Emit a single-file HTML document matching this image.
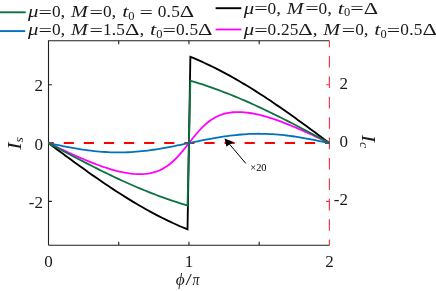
<!DOCTYPE html><html><head><meta charset="utf-8"><style>html,body{margin:0;padding:0;background:#fff}svg{display:block;will-change:transform;opacity:0.999}text{font-family:"Liberation Serif",serif}</style></head><body><svg width="436" height="291" viewBox="0 0 436 291" fill="#1a1a1a">
<rect width="436" height="291" fill="#fff"/>
<path d="M329.40 40.80 L48.50 40.80 L48.50 245.20 M48.50 245.20 L329.40 245.20" fill="none" stroke="#1f1f1f" stroke-width="1.1"/>
<path d="M118.72 40.80 v3.4 M118.72 245.20 v-3.4 M188.95 40.80 v3.4 M188.95 245.20 v-3.4 M259.17 40.80 v3.4 M259.17 245.20 v-3.4 M48.50 84.80 h3.4 M48.50 143.10 h3.4 M48.50 201.40 h3.4" stroke="#1f1f1f" stroke-width="1.1" fill="none"/>
<path d="M329.40 40.80 V245.20" stroke="#f5323c" stroke-width="1.1" stroke-dasharray="11.6 8.8" stroke-dashoffset="5.2" fill="none"/>
<path d="M329.40 84.80 h-3.3 M329.40 143.10 h-3.3 M329.40 201.40 h-3.3" stroke="#f5323c" stroke-width="1.1" fill="none"/>
<path d="M48.50 143.10 H329.40" stroke="#ff0000" stroke-width="2" stroke-dasharray="10.2 9.9" stroke-dashoffset="4.9" fill="none"/>
<path d="M48.50 143.10 L51.34 145.21 L54.17 147.31 L57.01 149.41 L59.85 151.51 L62.69 153.61 L65.52 155.70 L68.36 157.78 L71.20 159.86 L74.04 161.93 L76.87 163.99 L79.71 166.05 L82.55 168.09 L85.39 170.12 L88.22 172.14 L91.06 174.14 L93.90 176.13 L96.74 178.11 L99.57 180.07 L102.41 182.01 L105.25 183.94 L108.08 185.85 L110.92 187.74 L113.76 189.61 L116.60 191.46 L119.43 193.29 L122.27 195.09 L125.11 196.88 L127.95 198.64 L130.78 200.37 L133.62 202.09 L136.46 203.77 L139.30 205.44 L142.13 207.07 L144.97 208.68 L147.81 210.27 L150.65 211.82 L153.48 213.35 L156.32 214.85 L159.16 216.32 L161.99 217.76 L164.83 219.17 L167.67 220.55 L170.51 221.91 L173.34 223.23 L176.18 224.52 L179.02 225.79 L181.86 227.02 L184.69 228.22 L187.53 229.39 L190.37 56.81 L193.21 57.98 L196.04 59.18 L198.88 60.41 L201.72 61.68 L204.56 62.97 L207.39 64.29 L210.23 65.65 L213.07 67.03 L215.91 68.44 L218.74 69.88 L221.58 71.35 L224.42 72.85 L227.25 74.38 L230.09 75.93 L232.93 77.52 L235.77 79.13 L238.60 80.76 L241.44 82.43 L244.28 84.11 L247.12 85.83 L249.95 87.56 L252.79 89.32 L255.63 91.11 L258.47 92.91 L261.30 94.74 L264.14 96.59 L266.98 98.46 L269.82 100.35 L272.65 102.26 L275.49 104.19 L278.33 106.13 L281.16 108.09 L284.00 110.07 L286.84 112.06 L289.68 114.06 L292.51 116.08 L295.35 118.11 L298.19 120.15 L301.03 122.21 L303.86 124.27 L306.70 126.34 L309.54 128.42 L312.38 130.50 L315.21 132.59 L318.05 134.69 L320.89 136.79 L323.73 138.89 L326.56 140.99 L329.40 143.10" stroke="#000" stroke-width="1.85" fill="none" stroke-linejoin="miter"/>
<path d="M48.50 143.10 L51.34 144.45 L54.17 145.81 L57.01 147.15 L59.85 148.50 L62.69 149.83 L65.52 151.16 L68.36 152.47 L71.20 153.77 L74.04 155.05 L76.87 156.32 L79.71 157.56 L82.55 158.79 L85.39 159.99 L88.22 161.16 L91.06 162.30 L93.90 163.41 L96.74 164.49 L99.57 165.53 L102.41 166.53 L105.25 167.49 L108.08 168.41 L110.92 169.27 L113.76 170.08 L116.60 170.84 L119.43 171.53 L122.27 172.16 L125.11 172.71 L127.95 173.19 L130.78 173.58 L133.62 173.87 L136.46 174.07 L139.30 174.15 L142.13 174.11 L144.97 173.94 L147.81 173.62 L150.65 173.13 L153.48 172.46 L156.32 171.58 L159.16 170.48 L161.99 169.15 L164.83 167.54 L167.67 165.66 L170.51 163.49 L173.34 161.02 L176.18 158.25 L179.02 155.21 L181.86 151.94 L184.69 148.48 L187.53 144.91 L190.37 141.29 L193.21 137.72 L196.04 134.26 L198.88 130.99 L201.72 127.95 L204.56 125.18 L207.39 122.71 L210.23 120.54 L213.07 118.66 L215.91 117.05 L218.74 115.72 L221.58 114.62 L224.42 113.74 L227.25 113.07 L230.09 112.58 L232.93 112.26 L235.77 112.09 L238.60 112.05 L241.44 112.13 L244.28 112.33 L247.12 112.62 L249.95 113.01 L252.79 113.49 L255.63 114.04 L258.47 114.67 L261.30 115.36 L264.14 116.12 L266.98 116.93 L269.82 117.79 L272.65 118.71 L275.49 119.67 L278.33 120.67 L281.16 121.71 L284.00 122.79 L286.84 123.90 L289.68 125.04 L292.51 126.21 L295.35 127.41 L298.19 128.64 L301.03 129.88 L303.86 131.15 L306.70 132.43 L309.54 133.73 L312.38 135.04 L315.21 136.37 L318.05 137.70 L320.89 139.05 L323.73 140.39 L326.56 141.75 L329.40 143.10" stroke="#ff00ff" stroke-width="1.8" fill="none"/>
<path d="M48.50 143.10 L51.34 143.69 L54.17 144.28 L57.01 144.87 L59.85 145.44 L62.69 146.01 L65.52 146.57 L68.36 147.11 L71.20 147.64 L74.04 148.14 L76.87 148.63 L79.71 149.10 L82.55 149.54 L85.39 149.95 L88.22 150.34 L91.06 150.70 L93.90 151.03 L96.74 151.32 L99.57 151.59 L102.41 151.81 L105.25 152.01 L108.08 152.17 L110.92 152.29 L113.76 152.37 L116.60 152.42 L119.43 152.43 L122.27 152.40 L125.11 152.33 L127.95 152.23 L130.78 152.09 L133.62 151.91 L136.46 151.70 L139.30 151.46 L142.13 151.18 L144.97 150.87 L147.81 150.52 L150.65 150.15 L153.48 149.75 L156.32 149.32 L159.16 148.87 L161.99 148.39 L164.83 147.89 L167.67 147.37 L170.51 146.84 L173.34 146.29 L176.18 145.73 L179.02 145.16 L181.86 144.57 L184.69 143.99 L187.53 143.40 L190.37 142.80 L193.21 142.21 L196.04 141.63 L198.88 141.04 L201.72 140.47 L204.56 139.91 L207.39 139.36 L210.23 138.83 L213.07 138.31 L215.91 137.81 L218.74 137.33 L221.58 136.88 L224.42 136.45 L227.25 136.05 L230.09 135.68 L232.93 135.33 L235.77 135.02 L238.60 134.74 L241.44 134.50 L244.28 134.29 L247.12 134.11 L249.95 133.97 L252.79 133.87 L255.63 133.80 L258.47 133.77 L261.30 133.78 L264.14 133.83 L266.98 133.91 L269.82 134.03 L272.65 134.19 L275.49 134.39 L278.33 134.61 L281.16 134.88 L284.00 135.17 L286.84 135.50 L289.68 135.86 L292.51 136.25 L295.35 136.66 L298.19 137.10 L301.03 137.57 L303.86 138.06 L306.70 138.56 L309.54 139.09 L312.38 139.63 L315.21 140.19 L318.05 140.76 L320.89 141.33 L323.73 141.92 L326.56 142.51 L329.40 143.10" stroke="#0072bd" stroke-width="1.8" fill="none"/>
<path d="M48.50 143.10 L51.34 144.62 L54.17 146.14 L57.01 147.66 L59.85 149.18 L62.69 150.70 L65.52 152.21 L68.36 153.72 L71.20 155.22 L74.04 156.72 L76.87 158.21 L79.71 159.69 L82.55 161.17 L85.39 162.64 L88.22 164.10 L91.06 165.55 L93.90 166.99 L96.74 168.42 L99.57 169.83 L102.41 171.24 L105.25 172.63 L108.08 174.01 L110.92 175.38 L113.76 176.73 L116.60 178.07 L119.43 179.39 L122.27 180.70 L125.11 181.99 L127.95 183.26 L130.78 184.52 L133.62 185.76 L136.46 186.98 L139.30 188.18 L142.13 189.36 L144.97 190.53 L147.81 191.67 L150.65 192.80 L153.48 193.90 L156.32 194.98 L159.16 196.05 L161.99 197.09 L164.83 198.11 L167.67 199.11 L170.51 200.09 L173.34 201.05 L176.18 201.98 L179.02 202.90 L181.86 203.79 L184.69 204.66 L187.53 205.50 L190.37 80.70 L193.21 81.54 L196.04 82.41 L198.88 83.30 L201.72 84.22 L204.56 85.15 L207.39 86.11 L210.23 87.09 L213.07 88.09 L215.91 89.11 L218.74 90.15 L221.58 91.22 L224.42 92.30 L227.25 93.40 L230.09 94.53 L232.93 95.67 L235.77 96.84 L238.60 98.02 L241.44 99.22 L244.28 100.44 L247.12 101.68 L249.95 102.94 L252.79 104.21 L255.63 105.50 L258.47 106.81 L261.30 108.13 L264.14 109.47 L266.98 110.82 L269.82 112.19 L272.65 113.57 L275.49 114.96 L278.33 116.37 L281.16 117.78 L284.00 119.21 L286.84 120.65 L289.68 122.10 L292.51 123.56 L295.35 125.03 L298.19 126.51 L301.03 127.99 L303.86 129.48 L306.70 130.98 L309.54 132.48 L312.38 133.99 L315.21 135.50 L318.05 137.02 L320.89 138.54 L323.73 140.06 L326.56 141.58 L329.40 143.10" stroke="#0c7340" stroke-width="1.8" fill="none" stroke-linejoin="miter"/>
<path d="M245.8 163.4 L229 143.6" stroke="#000" stroke-width="1" fill="none"/>
<path d="M224.6 138.4 L234.1 142.3 L229.6 144.2 L226.5 146.7 Z" fill="#000"/>
<text transform="translate(250.30,171.30) scale(1.000,1)" font-size="10.4" text-anchor="start" fill="#000">×20</text>
<text transform="translate(43.00,91.20) scale(1.000,1)" font-size="17.0" text-anchor="end">2</text>
<text transform="translate(348.00,88.50) scale(1.000,1)" font-size="17.0" text-anchor="end">2</text>
<text transform="translate(43.00,149.50) scale(1.000,1)" font-size="17.0" text-anchor="end">0</text>
<text transform="translate(348.00,146.80) scale(1.000,1)" font-size="17.0" text-anchor="end">0</text>
<text transform="translate(43.00,207.80) scale(1.000,1)" font-size="17.0" text-anchor="end">-2</text>
<text transform="translate(348.00,205.10) scale(1.000,1)" font-size="17.0" text-anchor="end">-2</text>
<text transform="translate(48.50,266.50) scale(1.000,1)" font-size="17.0" text-anchor="middle">0</text>
<text transform="translate(188.95,266.50) scale(1.000,1)" font-size="17.0" text-anchor="middle">1</text>
<text transform="translate(329.40,266.50) scale(1.000,1)" font-size="17.0" text-anchor="middle">2</text>
<text transform="translate(175.80,284.60) scale(1.050,1)" font-size="16.5" text-anchor="start" font-style="italic">ϕ</text>
<text transform="translate(185.60,285.20) scale(1.300,1)" font-size="17.5" text-anchor="start">/</text>
<text transform="translate(192.60,284.60) scale(0.840,1)" font-size="16.5" text-anchor="start" font-style="italic">π</text>
<text transform="translate(20.6,149.8) rotate(-90) scale(1.22,1)" font-size="18" font-style="italic">I</text>
<text transform="translate(23.2,142.4) rotate(-90) scale(1.1,1)" font-size="12.5" font-style="italic">s</text>
<text transform="translate(362.4,134.8) rotate(90) scale(1.22,1)" font-size="18" font-style="italic">I</text>
<text transform="translate(359.8,142.0) rotate(90) scale(1.1,1)" font-size="12.5" font-style="italic">c</text>
<path d="M-1 12.3 H25.7" stroke="#0c7340" stroke-width="1.9"/>
<path d="M-1 31.1 H25.2" stroke="#0072bd" stroke-width="1.9"/>
<path d="M215.6 8.2 H241.3" stroke="#000" stroke-width="1.9"/>
<path d="M215.6 29.5 H241.3" stroke="#ff00ff" stroke-width="1.8"/>
<text transform="translate(28.00,17.20) scale(1.267,1)" font-size="16.4" text-anchor="start" font-style="italic">μ</text>
<text transform="translate(38.43,18.00) scale(1.455,1)" font-size="16.4" text-anchor="start">=</text>
<text transform="translate(51.89,17.20) scale(1.055,1)" font-size="16.4" text-anchor="start">0</text>
<text transform="translate(60.54,17.20) scale(1.173,1)" font-size="16.4" text-anchor="start">,</text>
<text transform="translate(71.11,17.20) scale(1.228,1)" font-size="16.4" text-anchor="start" font-style="italic">M</text>
<text transform="translate(89.45,18.00) scale(1.455,1)" font-size="16.4" text-anchor="start">=</text>
<text transform="translate(102.91,17.20) scale(1.055,1)" font-size="16.4" text-anchor="start">0</text>
<text transform="translate(111.56,17.20) scale(1.173,1)" font-size="16.4" text-anchor="start">,</text>
<text transform="translate(122.13,17.20) scale(1.370,1)" font-size="16.4" text-anchor="start" font-style="italic">t</text>
<text transform="translate(128.37,19.90) scale(1.055,1)" font-size="11.81" text-anchor="start">0</text>
<text transform="translate(139.41,18.00) scale(1.455,1)" font-size="16.4" text-anchor="start">=</text>
<text transform="translate(157.68,17.20) scale(1.055,1)" font-size="16.4" text-anchor="start">0</text>
<text transform="translate(166.33,17.20) scale(1.173,1)" font-size="16.4" text-anchor="start">.</text>
<text transform="translate(171.14,17.20) scale(1.055,1)" font-size="16.4" text-anchor="start">5</text>
<text transform="translate(179.79,17.20) scale(1.367,1)" font-size="16.4" text-anchor="start">Δ</text>
<text transform="translate(28.00,35.40) scale(1.267,1)" font-size="16.4" text-anchor="start" font-style="italic">μ</text>
<text transform="translate(38.43,36.20) scale(1.455,1)" font-size="16.4" text-anchor="start">=</text>
<text transform="translate(51.89,35.40) scale(1.055,1)" font-size="16.4" text-anchor="start">0</text>
<text transform="translate(60.54,35.40) scale(1.173,1)" font-size="16.4" text-anchor="start">,</text>
<text transform="translate(71.11,35.40) scale(1.228,1)" font-size="16.4" text-anchor="start" font-style="italic">M</text>
<text transform="translate(89.45,36.20) scale(1.455,1)" font-size="16.4" text-anchor="start">=</text>
<text transform="translate(102.91,35.40) scale(1.055,1)" font-size="16.4" text-anchor="start">1</text>
<text transform="translate(111.56,35.40) scale(1.173,1)" font-size="16.4" text-anchor="start">.</text>
<text transform="translate(116.37,35.40) scale(1.055,1)" font-size="16.4" text-anchor="start">5</text>
<text transform="translate(125.02,35.40) scale(1.367,1)" font-size="16.4" text-anchor="start">Δ</text>
<text transform="translate(139.43,35.40) scale(1.173,1)" font-size="16.4" text-anchor="start">,</text>
<text transform="translate(150.00,35.40) scale(1.370,1)" font-size="16.4" text-anchor="start" font-style="italic">t</text>
<text transform="translate(156.24,38.10) scale(1.055,1)" font-size="11.81" text-anchor="start">0</text>
<text transform="translate(162.47,36.20) scale(1.455,1)" font-size="16.4" text-anchor="start">=</text>
<text transform="translate(175.93,35.40) scale(1.055,1)" font-size="16.4" text-anchor="start">0</text>
<text transform="translate(184.58,35.40) scale(1.173,1)" font-size="16.4" text-anchor="start">.</text>
<text transform="translate(189.39,35.40) scale(1.055,1)" font-size="16.4" text-anchor="start">5</text>
<text transform="translate(198.04,35.40) scale(1.367,1)" font-size="16.4" text-anchor="start">Δ</text>
<text transform="translate(243.70,13.60) scale(1.267,1)" font-size="16.4" text-anchor="start" font-style="italic">μ</text>
<text transform="translate(254.13,14.40) scale(1.455,1)" font-size="16.4" text-anchor="start">=</text>
<text transform="translate(267.59,13.60) scale(1.055,1)" font-size="16.4" text-anchor="start">0</text>
<text transform="translate(276.24,13.60) scale(1.173,1)" font-size="16.4" text-anchor="start">,</text>
<text transform="translate(286.81,13.60) scale(1.228,1)" font-size="16.4" text-anchor="start" font-style="italic">M</text>
<text transform="translate(305.15,14.40) scale(1.455,1)" font-size="16.4" text-anchor="start">=</text>
<text transform="translate(318.61,13.60) scale(1.055,1)" font-size="16.4" text-anchor="start">0</text>
<text transform="translate(327.26,13.60) scale(1.173,1)" font-size="16.4" text-anchor="start">,</text>
<text transform="translate(337.83,13.60) scale(1.370,1)" font-size="16.4" text-anchor="start" font-style="italic">t</text>
<text transform="translate(344.07,16.30) scale(1.055,1)" font-size="11.81" text-anchor="start">0</text>
<text transform="translate(350.30,14.40) scale(1.455,1)" font-size="16.4" text-anchor="start">=</text>
<text transform="translate(363.76,13.60) scale(1.367,1)" font-size="16.4" text-anchor="start">Δ</text>
<text transform="translate(243.70,35.00) scale(1.267,1)" font-size="16.4" text-anchor="start" font-style="italic">μ</text>
<text transform="translate(254.13,35.80) scale(1.455,1)" font-size="16.4" text-anchor="start">=</text>
<text transform="translate(267.59,35.00) scale(1.055,1)" font-size="16.4" text-anchor="start">0</text>
<text transform="translate(276.24,35.00) scale(1.173,1)" font-size="16.4" text-anchor="start">.</text>
<text transform="translate(281.05,35.00) scale(1.055,1)" font-size="16.4" text-anchor="start">2</text>
<text transform="translate(289.70,35.00) scale(1.055,1)" font-size="16.4" text-anchor="start">5</text>
<text transform="translate(298.35,35.00) scale(1.367,1)" font-size="16.4" text-anchor="start">Δ</text>
<text transform="translate(312.76,35.00) scale(1.173,1)" font-size="16.4" text-anchor="start">,</text>
<text transform="translate(323.33,35.00) scale(1.228,1)" font-size="16.4" text-anchor="start" font-style="italic">M</text>
<text transform="translate(341.67,35.80) scale(1.455,1)" font-size="16.4" text-anchor="start">=</text>
<text transform="translate(355.13,35.00) scale(1.055,1)" font-size="16.4" text-anchor="start">0</text>
<text transform="translate(363.78,35.00) scale(1.173,1)" font-size="16.4" text-anchor="start">,</text>
<text transform="translate(374.35,35.00) scale(1.370,1)" font-size="16.4" text-anchor="start" font-style="italic">t</text>
<text transform="translate(380.59,37.70) scale(1.055,1)" font-size="11.81" text-anchor="start">0</text>
<text transform="translate(386.82,35.80) scale(1.455,1)" font-size="16.4" text-anchor="start">=</text>
<text transform="translate(400.28,35.00) scale(1.055,1)" font-size="16.4" text-anchor="start">0</text>
<text transform="translate(408.93,35.00) scale(1.173,1)" font-size="16.4" text-anchor="start">.</text>
<text transform="translate(413.74,35.00) scale(1.055,1)" font-size="16.4" text-anchor="start">5</text>
<text transform="translate(422.39,35.00) scale(1.367,1)" font-size="16.4" text-anchor="start">Δ</text>
</svg></body></html>
